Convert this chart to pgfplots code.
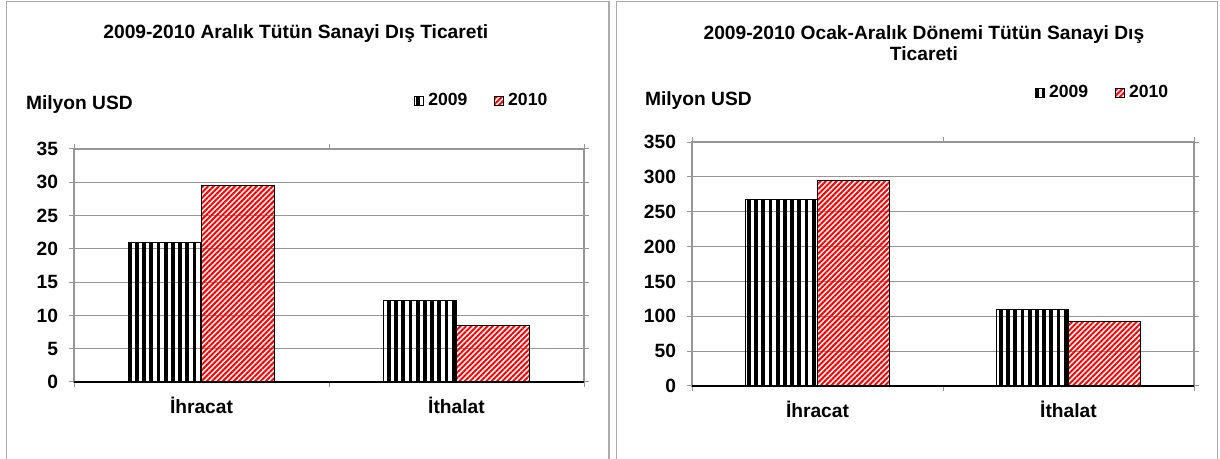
\documentclass[border=0pt]{standalone}
\usepackage{fontspec}
\setmainfont{Liberation Sans}
\usepackage{pgfplots}
\pgfplotsset{compat=1.18}
\usetikzlibrary{patterns.meta}

\definecolor{gridgray}{RGB}{150,150,150}
\definecolor{framegray}{RGB}{170,170,170}

\pgfplotsset{
  tutun/.style={
    scale only axis, anchor=south west,
    ybar=0pt,
    xmin=-0.5, xmax=1.5, ymin=0,
    xtick={-0.5,0.5,1.5}, xticklabels={},
    extra x ticks={0,1}, extra x tick labels={İhracat,İthalat},
    extra x tick style={major tick length=0pt, xticklabel style={yshift=-4pt}},
    tick align=outside, major tick length=2.5pt,
    tick style={draw=gridgray, line width=0.5pt},
    axis line style={draw=gridgray, line width=0.6pt},
    ymajorgrids, grid style={draw=gridgray, line width=0.5pt},
    extra y ticks={0}, extra y tick labels={},
    extra y tick style={grid style={draw=black, line width=0.8pt}},
    /pgf/number format/assume math mode=true,
    tick label style={font=\fontsize{9.6}{11}\selectfont\bfseries},
    yticklabel style={xshift=-2pt},
    ylabel={Milyon USD},
    ylabel style={rotate=-90, anchor=west, font=\fontsize{9.6}{11}\selectfont\bfseries},
    title style={align=center, font=\fontsize{9.6}{10.5}\selectfont\bfseries},
    legend columns=2,
    legend style={draw=none, fill=none, font=\fontsize{8.8}{10}\selectfont\bfseries,
      /tikz/every odd column/.append style={column sep=0pt},
      /tikz/every even column/.append style={column sep=11.5pt}},
    legend image code/.code={\draw[#1, line width=0.5pt] (0pt,-2.2pt) rectangle (4.4pt,2.2pt);},
  },
  y2009/.style={draw=black, line width=0.6pt, pattern={Lines[angle=90,distance=3.6pt,line width=1.9pt]}, pattern color=black},
  y2010/.style={draw=black, line width=0.6pt, pattern={Lines[angle=45,distance=1.9pt,line width=1pt]}, pattern color=red},
}

\begin{document}
\begin{tikzpicture}
\path[use as bounding box] (0,0) rectangle (610pt,229.5pt);
\draw[framegray, line width=0.6pt] (3.3pt,-2pt) -- (3.3pt,228.7pt) -- (304.5pt,228.7pt) -- (304.5pt,-2pt);
\draw[framegray, line width=0.6pt] (308.3pt,-2pt) -- (308.3pt,228.7pt) -- (608.8pt,228.7pt) -- (608.8pt,-2pt);

\begin{axis}[tutun,
  at={(37pt,38.5pt)}, width=255pt, height=116.5pt,
  bar width=36.5pt,
  ymax=35, ytick distance=5,
  title={2009-2010 Aralık Tütün Sanayi Dış Ticareti},
  title style={at={(rel axis cs:0.435,1)}, anchor=center, yshift=51.5pt},
  ylabel style={at={(rel axis cs:0,1)}, xshift=-27.5pt, yshift=22pt},
  legend style={at={(rel axis cs:0.655,1)}, anchor=west, yshift=24pt},
]
\addplot[y2009] coordinates {(0,21.0) (1,12.2)};
\addlegendentry{2009}
\addplot[y2010] coordinates {(0,29.5) (1,8.5)};
\addlegendentry{2010}
\end{axis}

\begin{axis}[tutun,
  at={(346pt,36.5pt)}, width=251pt, height=122pt,
  bar width=36pt,
  ymax=350, ytick distance=50,
  title={2009-2010 Ocak-Aralık Dönemi Tütün Sanayi Dış\\Ticareti},
  title style={at={(rel axis cs:0.462,1)}, anchor=center, yshift=43.5pt},
  ylabel style={at={(rel axis cs:0,1)}, xshift=-27pt, yshift=20.5pt},
  legend style={at={(rel axis cs:0.671,1)}, anchor=west, yshift=24.5pt},
]
\addplot[y2009] coordinates {(0,267) (1,110)};
\addlegendentry{2009}
\addplot[y2010] coordinates {(0,295) (1,93)};
\addlegendentry{2010}
\end{axis}
\end{tikzpicture}
\end{document}
